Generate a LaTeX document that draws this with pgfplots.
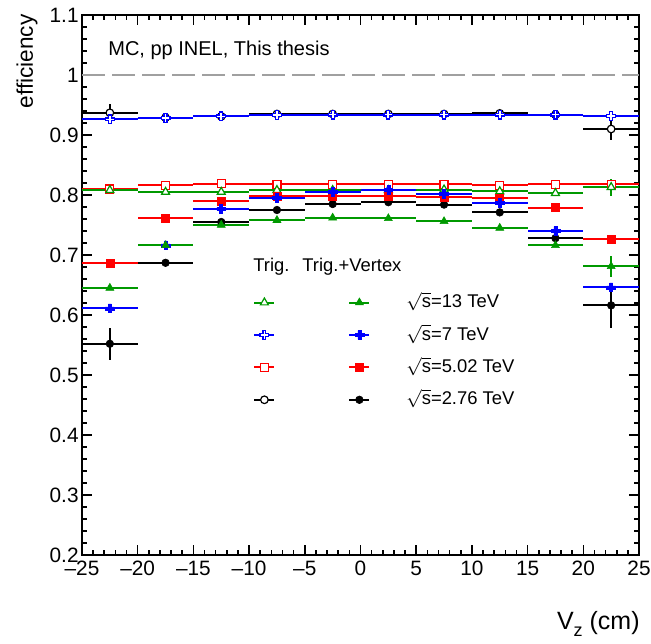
\documentclass[border=0pt]{standalone}
\usepackage{pgfplots}
\pgfplotsset{compat=1.18}
\usepackage{pgfplotstable}
\usepackage{fontspec}
\setmainfont{Liberation Sans}

\definecolor{rgreen}{RGB}{0,153,0}
\definecolor{rdash}{RGB}{160,160,160}

% ROOT style plus marker (open or filled, depending on fill)
\pgfdeclareplotmark{rcross}{%
  \pgfpathmoveto{\pgfqpoint{-0.34\pgfplotmarksize}{\pgfplotmarksize}}%
  \pgfpathlineto{\pgfqpoint{0.34\pgfplotmarksize}{\pgfplotmarksize}}%
  \pgfpathlineto{\pgfqpoint{0.34\pgfplotmarksize}{0.34\pgfplotmarksize}}%
  \pgfpathlineto{\pgfqpoint{\pgfplotmarksize}{0.34\pgfplotmarksize}}%
  \pgfpathlineto{\pgfqpoint{\pgfplotmarksize}{-0.34\pgfplotmarksize}}%
  \pgfpathlineto{\pgfqpoint{0.34\pgfplotmarksize}{-0.34\pgfplotmarksize}}%
  \pgfpathlineto{\pgfqpoint{0.34\pgfplotmarksize}{-\pgfplotmarksize}}%
  \pgfpathlineto{\pgfqpoint{-0.34\pgfplotmarksize}{-\pgfplotmarksize}}%
  \pgfpathlineto{\pgfqpoint{-0.34\pgfplotmarksize}{-0.34\pgfplotmarksize}}%
  \pgfpathlineto{\pgfqpoint{-\pgfplotmarksize}{-0.34\pgfplotmarksize}}%
  \pgfpathlineto{\pgfqpoint{-\pgfplotmarksize}{0.34\pgfplotmarksize}}%
  \pgfpathlineto{\pgfqpoint{-0.34\pgfplotmarksize}{0.34\pgfplotmarksize}}%
  \pgfpathclose
  \pgfusepathqfillstroke
}

% Trig. only (open markers)
\pgfplotstableread{
x y ex ey
-22.5 0.808 2.5 0.003
-17.5 0.805 2.5 0.002
-12.5 0.805 2.5 0.002
-7.5 0.808 2.5 0.002
-2.5 0.808 2.5 0.002
2.5 0.808 2.5 0.002
7.5 0.809 2.5 0.002
12.5 0.806 2.5 0.002
17.5 0.803 2.5 0.003
22.5 0.813 2.5 0.014
}\tgA
\pgfplotstableread{
x y ex ey
-22.5 0.926 2.5 0.003
-17.5 0.928 2.5 0.002
-12.5 0.931 2.5 0.002
-7.5 0.933 2.5 0.002
-2.5 0.934 2.5 0.002
2.5 0.934 2.5 0.002
7.5 0.934 2.5 0.002
12.5 0.934 2.5 0.002
17.5 0.934 2.5 0.002
22.5 0.932 2.5 0.004
}\tgB
\pgfplotstableread{
x y ex ey
-22.5 0.810 2.5 0.003
-17.5 0.816 2.5 0.002
-12.5 0.819 2.5 0.002
-7.5 0.818 2.5 0.002
-2.5 0.818 2.5 0.002
2.5 0.818 2.5 0.002
7.5 0.818 2.5 0.002
12.5 0.816 2.5 0.002
17.5 0.818 2.5 0.002
22.5 0.818 2.5 0.004
}\tgC
\pgfplotstableread{
x y ex ey
-22.5 0.937 2.5 0.014
-17.5 0.929 2.5 0.004
-12.5 0.931 2.5 0.003
-7.5 0.935 2.5 0.003
-2.5 0.935 2.5 0.003
2.5 0.935 2.5 0.003
7.5 0.935 2.5 0.003
12.5 0.936 2.5 0.003
17.5 0.934 2.5 0.004
22.5 0.910 2.5 0.019
}\tgD

% Trig.+Vertex (filled markers)
\pgfplotstableread{
x y ex ey
-22.5 0.645 2.5 0.004
-17.5 0.716 2.5 0.003
-12.5 0.750 2.5 0.002
-7.5 0.758 2.5 0.002
-2.5 0.762 2.5 0.002
2.5 0.761 2.5 0.002
7.5 0.756 2.5 0.002
12.5 0.745 2.5 0.002
17.5 0.716 2.5 0.003
22.5 0.681 2.5 0.017
}\tvA
\pgfplotstableread{
x y ex ey
-22.5 0.611 2.5 0.004
-17.5 0.716 2.5 0.003
-12.5 0.777 2.5 0.002
-7.5 0.795 2.5 0.002
-2.5 0.805 2.5 0.002
2.5 0.808 2.5 0.002
7.5 0.802 2.5 0.002
12.5 0.787 2.5 0.002
17.5 0.740 2.5 0.003
22.5 0.646 2.5 0.005
}\tvB
\pgfplotstableread{
x y ex ey
-22.5 0.686 2.5 0.004
-17.5 0.761 2.5 0.003
-12.5 0.790 2.5 0.002
-7.5 0.798 2.5 0.002
-2.5 0.798 2.5 0.002
2.5 0.798 2.5 0.002
7.5 0.796 2.5 0.002
12.5 0.795 2.5 0.002
17.5 0.779 2.5 0.003
22.5 0.726 2.5 0.004
}\tvC
\pgfplotstableread{
x y ex ey
-22.5 0.552 2.5 0.027
-17.5 0.687 2.5 0.004
-12.5 0.755 2.5 0.003
-7.5 0.775 2.5 0.003
-2.5 0.785 2.5 0.003
2.5 0.788 2.5 0.003
7.5 0.784 2.5 0.003
12.5 0.771 2.5 0.003
17.5 0.728 2.5 0.004
22.5 0.616 2.5 0.038
}\tvD

\pgfplotsset{
  rootpts/.style={only marks, forget plot, line width=1pt,
    error bars/x dir=both, error bars/x explicit,
    error bars/y dir=both, error bars/y explicit,
    error bars/error mark=none,
    error bars/error bar style={line width=1pt}},
  rootleg/.style={line width=1pt},
}

\begin{document}
\begin{tikzpicture}
\begin{axis}[
  scale only axis, width=278.5pt, height=270pt,
  xmin=-25, xmax=25, ymin=0.2, ymax=1.1,
  xtick={-25,-20,-15,-10,-5,0,5,10,15,20,25},
  xticklabels={\textendash 25,\textendash 20,\textendash 15,\textendash 10,\textendash 5,0,5,10,15,20,25},
  ytick={0.2,0.3,0.4,0.5,0.6,0.7,0.8,0.9,1,1.1},
  yticklabels={0.2,0.3,0.4,0.5,0.6,0.7,0.8,0.9,1,1.1},
  minor x tick num=4, minor y tick num=4,
  tick align=inside, major tick length=5pt, minor tick length=2.5pt,
  major tick style={black, line width=0.8pt},
  minor tick style={black, line width=0.8pt},
  axis line style={line width=1pt},
  ticklabel style={font=\fontsize{10.4}{12}\selectfont},
  yticklabel style={inner xsep=1.5pt},
  xticklabel style={inner ysep=3pt},
  legend columns=2,
  legend cell align=left,
  legend style={draw=none, fill=none, at={(axis cs:-9.65,0.638)}, anchor=north west,
    inner sep=0pt, font=\fontsize{9.2}{11}\selectfont, row sep=6.2pt, column sep=0pt,
    nodes={inner sep=0pt, text height=7.5pt, text depth=2.5pt},
    /tikz/column 2/.style={column sep=35.5pt},
    /tikz/column 3/.style={column sep=18pt}},
  legend image code/.code={
    \draw[#1,mark=none] (0pt,0pt) -- (10pt,0pt);
    \draw[#1,only marks] plot coordinates {(5pt,0pt)};
  },
]
\coordinate (bl) at (rel axis cs:0,0);
\coordinate (tr) at (rel axis cs:1,1);
\coordinate (tl) at (rel axis cs:0,1);
\coordinate (br) at (rel axis cs:1,0);

\addplot[rdash, line width=1pt, dash pattern=on 11.5pt off 3.5pt, forget plot] coordinates {(-25,1) (25,1)};

% Trig.
\addplot[rootpts, black, mark=*, mark size=1.9pt, mark options={fill=white, line width=0.6pt}]
  table[x=x, y=y, x error=ex, y error=ey] {\tgD};
\addplot[rootpts, red, mark=square*, mark size=2pt, mark options={fill=white, line width=0.6pt}]
  table[x=x, y=y, x error=ex, y error=ey] {\tgC};
\addplot[rootpts, blue, mark=rcross, mark size=2.2pt, mark options={fill=white, line width=0.6pt}]
  table[x=x, y=y, x error=ex, y error=ey] {\tgB};
\addplot[rootpts, rgreen, mark=triangle*, mark size=2.3pt, mark options={fill=white, line width=0.6pt}]
  table[x=x, y=y, x error=ex, y error=ey] {\tgA};
% Trig.+Vertex
\addplot[rootpts, black, mark=*, mark size=1.9pt, mark options={fill=black, line width=0.3pt}]
  table[x=x, y=y, x error=ex, y error=ey] {\tvD};
\addplot[rootpts, red, mark=square*, mark size=2pt, mark options={fill=red, line width=0.3pt}]
  table[x=x, y=y, x error=ex, y error=ey] {\tvC};
\addplot[rootpts, blue, mark=rcross, mark size=2.2pt, mark options={fill=blue, line width=0.3pt}]
  table[x=x, y=y, x error=ex, y error=ey] {\tvB};
\addplot[rootpts, rgreen, mark=triangle*, mark size=2.3pt, mark options={fill=rgreen, line width=0.3pt}]
  table[x=x, y=y, x error=ex, y error=ey] {\tvA};

% legend
\addlegendimage{rootleg, rgreen, mark=triangle*, mark size=2.3pt, mark options={fill=white, line width=0.6pt}}
\addlegendentry{}
\addlegendimage{rootleg, rgreen, mark=triangle*, mark size=2.3pt, mark options={fill=rgreen, line width=0.3pt}}
\addlegendentry{$\sqrt{\hbox{s}}$=13 TeV}
\addlegendimage{rootleg, blue, mark=rcross, mark size=2.2pt, mark options={fill=white, line width=0.6pt}}
\addlegendentry{}
\addlegendimage{rootleg, blue, mark=rcross, mark size=2.2pt, mark options={fill=blue, line width=0.3pt}}
\addlegendentry{$\sqrt{\hbox{s}}$=7 TeV}
\addlegendimage{rootleg, red, mark=square*, mark size=2pt, mark options={fill=white, line width=0.6pt}}
\addlegendentry{}
\addlegendimage{rootleg, red, mark=square*, mark size=2pt, mark options={fill=red, line width=0.3pt}}
\addlegendentry{$\sqrt{\hbox{s}}$=5.02 TeV}
\addlegendimage{rootleg, black, mark=*, mark size=1.9pt, mark options={fill=white, line width=0.6pt}}
\addlegendentry{}
\addlegendimage{rootleg, black, mark=*, mark size=1.9pt, mark options={fill=black, line width=0.3pt}}
\addlegendentry{$\sqrt{\hbox{s}}$=2.76 TeV}

\node[anchor=base west, inner sep=0pt, font=\fontsize{10}{12}\selectfont] at (axis cs:-22.67,1.032) {MC, pp INEL, This thesis};
\node[anchor=base west, inner sep=0pt, font=\fontsize{9.2}{11}\selectfont] at (axis cs:-9.65,0.672) {Trig.};
\node[anchor=base west, inner sep=0pt, font=\fontsize{9.2}{11}\selectfont] at (axis cs:-5.25,0.672) {Trig.+Vertex};
\end{axis}
\node[rotate=90, anchor=base east, inner sep=0pt, font=\fontsize{11.3}{13}\selectfont] at ([shift={(-24.5pt,0.5pt)}]tl) {efficiency};
\node[anchor=base east, inner sep=0pt, font=\fontsize{12.5}{15}\selectfont] at ([shift={(0.5pt,-37.5pt)}]br) {V\raisebox{-3.5pt}{\fontsize{9}{10}\selectfont z} (cm)};
\pgfresetboundingbox
\path ([shift={(-41pt,-44.5pt)}]bl) rectangle ([shift={(6pt,7.5pt)}]tr);
\end{tikzpicture}
\end{document}
